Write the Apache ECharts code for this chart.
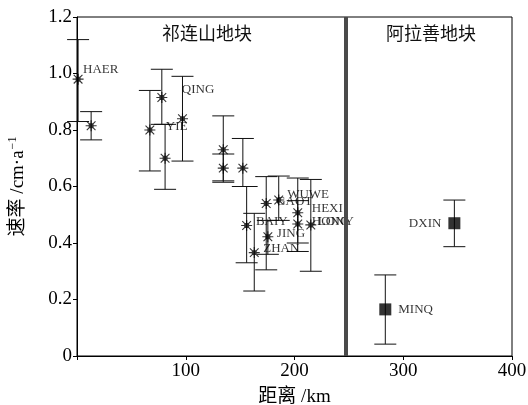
<!DOCTYPE html>
<html><head><meta charset="utf-8">
<script src="https://cdn.jsdelivr.net/npm/echarts@6/dist/echarts.min.js"></script>
<style>html,body{margin:0;padding:0;background:#fff}#c{width:528px;height:405px}</style>
</head><body><div id="c"></div>
<script>
// Qilian block stations (star markers)
var qlNames = ['HAER', '', 'YIE', 'QING', '', '', '', '', '', 'BAIY', 'ZHAN', 'GAOT', 'JING', 'WUWE', 'HEXI', 'HONG', 'LONY'];
var qlDist  = [1, 13, 67, 78, 81, 97, 134.5, 134.5, 152.5, 156, 163, 174, 175.5, 185.5, 203, 203, 215];
var qlRate  = [0.98, 0.815, 0.80, 0.915, 0.70, 0.84, 0.73, 0.665, 0.665, 0.462, 0.366, 0.54, 0.422, 0.552, 0.507, 0.467, 0.464];
var qlLow   = [0.83, 0.765, 0.655, 0.82, 0.59, 0.69, 0.62, 0.615, 0.60, 0.33, 0.23, 0.305, 0.36, 0.48, 0.37, 0.40, 0.30];
var qlHigh  = [1.12, 0.865, 0.94, 1.015, 0.82, 0.99, 0.85, 0.715, 0.77, 0.60, 0.505, 0.635, 0.48, 0.637, 0.63, 0.55, 0.625];
// Alxa block stations (square markers)
var axNames = ['DXIN', 'MINQ'];
var axDist  = [347, 283.5];
var axRate  = [0.47, 0.165];
var axLow   = [0.387, 0.042];
var axHigh  = [0.552, 0.287];
// boundary between blocks
var boundaryDist = 246.8;
var xTicks = [0, 100, 200, 300, 400];
var yTicks = [0, 0.2, 0.4, 0.6, 0.8, 1.0, 1.2];
var blockNames = ['祁连山地块', '阿拉善地块'];

// label layout (pixels): [dx, dy] of label left edge from point
var qlLabelOff = [[5,-10],[0,0],[16,-3],[20,-8],[0,0],[0,0],[0,0],[0,0],[0,0],[9.3,-4],[9,-4],[10,-2],[9,-3],[8.4,-5],[14,-4],[14,-2],[7,-3]];
var axLabelPos = [['left',[-7,0]], ['right',[7,0]]];

var serif = "'Liberation Serif','Times New Roman',serif";
var cjk = "'Liberation Serif','Noto Sans CJK SC',serif";
var starPath = 'path://M5.5 5.5H14.5V14.5H5.5Z M0 9H20V11H0Z M9 0H11V20H9Z M1.4 2.8L2.8 1.4L18.6 17.2L17.2 18.6Z M17.2 1.4L18.6 2.8L2.8 18.6L1.4 17.2Z';

var qlData = qlDist.map(function(d,i){
  var o = qlLabelOff[i];
  return {value:[d, qlRate[i]], label:{show: !!qlNames[i], formatter: qlNames[i], offset:[o[0]-5.5, o[1]]}};
});
var axData = axDist.map(function(d,i){
  return {value:[d, axRate[i]], label:{show:true, formatter:axNames[i], position:axLabelPos[i][0], offset:axLabelPos[i][1]}};
});
var errData = qlDist.map(function(d,i){return [d, qlLow[i], qlHigh[i]];})
  .concat(axDist.map(function(d,i){return [d, axLow[i], axHigh[i]];}));

function renderErr(params, api){
  var x = api.value(0), lo = api.value(1), hi = api.value(2);
  var pLo = api.coord([x, lo]), pHi = api.coord([x, hi]);
  var hw = 11;
  var st = {stroke:'#111', lineWidth:1};
  return {type:'group', children:[
    {type:'line', shape:{x1:pLo[0],y1:pLo[1],x2:pHi[0],y2:pHi[1]}, style:st},
    {type:'line', shape:{x1:pLo[0]-hw,y1:pLo[1],x2:pLo[0]+hw,y2:pLo[1]}, style:st},
    {type:'line', shape:{x1:pHi[0]-hw,y1:pHi[1],x2:pHi[0]+hw,y2:pHi[1]}, style:st}
  ]};
}

var chart = echarts.init(document.getElementById('c'), null, {renderer:'canvas'});
chart.setOption({
  animation:false,
  backgroundColor:'#fff',
  grid:{left:77, right:16, top:17, bottom:49, outerBoundsMode:'none', containLabel:false,
    show:true, borderColor:'#000', borderWidth:1, backgroundColor:'transparent'},
  xAxis:{
    type:'value', min:xTicks[0], max:xTicks[xTicks.length-1], interval:100,
    name:'距离 /km', nameLocation:'middle', nameGap:32,
    nameTextStyle:{color:'#000', fontSize:19, fontFamily:cjk},
    axisLine:{lineStyle:{color:'#000', width:1}},
    axisTick:{show:true, length:4, lineStyle:{color:'#000'}},
    axisLabel:{color:'#000', fontSize:19, fontFamily:serif, margin:6, formatter:function(v){return v===0?'':String(v);}},
    splitLine:{show:false}
  },
  yAxis:{
    type:'value', min:yTicks[0], max:yTicks[yTicks.length-1], interval:0.2,
    name:'{a|速率 /cm·a}{s|−1}', nameLocation:'middle', nameGap:48, nameRotate:90,
    nameTextStyle:{color:'#000', fontSize:19, fontFamily:cjk,
      rich:{a:{fontSize:19, fontFamily:cjk, color:'#000'}, s:{fontSize:12, fontFamily:serif, color:'#000', verticalAlign:'top', padding:[0,0,10,1]}}},
    axisLine:{lineStyle:{color:'#000', width:1}},
    axisTick:{show:true, length:4, lineStyle:{color:'#000'}},
    axisLabel:{color:'#000', fontSize:19, fontFamily:serif, margin:5, formatter:function(v){return v===0?'0':v.toFixed(1);}},
    splitLine:{show:false}
  },
  graphic:[
    {type:'text', left:162, top:24, style:{text:blockNames[0], font:"18px 'Noto Sans CJK SC'", fill:'#111'}},
    {type:'text', left:386, top:24, style:{text:blockNames[1], font:"18px 'Noto Sans CJK SC'", fill:'#111'}}
  ],
  series:[
    {type:'custom', renderItem:renderErr, data:errData, encode:{x:0, y:[1,2]}, z:2, silent:true},
    {type:'scatter', data:qlData, symbol:starPath, symbolSize:11, itemStyle:{color:'#000'}, z:3,
      label:{position:'right', distance:0, color:'#000', fontSize:13, fontFamily:serif},
      markLine:{silent:true, symbol:'none', label:{show:false},
        lineStyle:{color:'#4a4a4a', width:4, type:'solid'},
        data:[[{coord:[boundaryDist, yTicks[0]]},{coord:[boundaryDist, yTicks[yTicks.length-1]]}]]}},
    {type:'scatter', data:axData, symbol:'rect', symbolSize:12, itemStyle:{color:'#000'}, z:3,
      label:{color:'#000', fontSize:13, fontFamily:serif, distance:0}}
  ]
});
</script></body></html>
